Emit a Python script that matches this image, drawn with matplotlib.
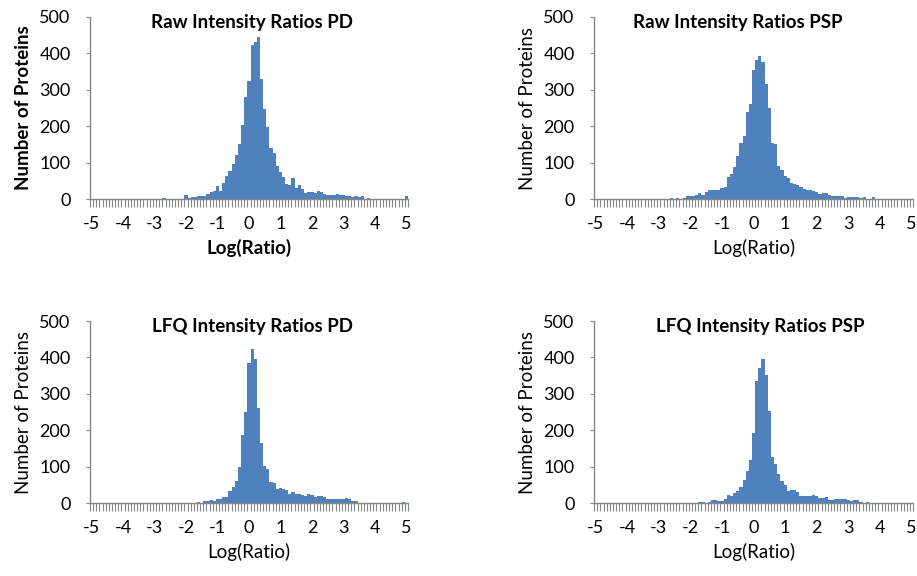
import numpy as np
import matplotlib
matplotlib.use("Agg")
import matplotlib.pyplot as plt
from matplotlib.ticker import FixedLocator

plt.rcParams['font.family'] = ['Lato', 'DejaVu Sans']

# bin centres -5.0 .. 5.0 in steps of 0.1
log_ratio = np.round(np.arange(-50, 51) / 10, 1)

raw_pd = [0] * 20 + [
    0, 0, 0, 4, 0, 0, 0, 0, 0, 0,
    12, 3, 5, 5, 9, 9, 9, 13, 20, 23,
    37, 23, 43, 63, 77, 95, 121, 151, 203, 279,
    325, 423, 431, 445, 329, 248, 198, 139, 127, 91,
    73, 61, 42, 39, 57, 31, 38, 28, 16, 20,
    20, 17, 23, 20, 14, 12, 12, 12, 15, 10,
    12, 7, 7, 5, 9, 5, 7, 0, 4, 0,
    0, 0, 0, 0, 0, 0, 0, 0, 0, 0,
    7]

raw_psp = [0] * 20 + [
    0, 0, 0, 0, 3, 0, 3, 0, 4, 9,
    9, 7, 11, 17, 11, 18, 26, 26, 26, 26,
    30, 33, 60, 68, 87, 118, 154, 173, 238, 262,
    355, 383, 392, 375, 315, 251, 154, 152, 91, 79,
    62, 58, 44, 41, 38, 33, 27, 26, 24, 22,
    20, 13, 16, 16, 11, 8, 9, 7, 8, 4,
    6, 6, 6, 5, 2, 6, 0, 0, 5, 0,
    0, 0, 0, 0, 0, 0, 0, 0, 0, 0,
    0]

lfq_pd = [0] * 30 + [
    0, 0, 0, 0, 2, 0, 5, 5, 7, 5,
    10, 12, 16, 16, 33, 44, 60, 100, 186, 249,
    384, 423, 397, 262, 166, 103, 93, 59, 54, 39,
    42, 38, 35, 26, 29, 26, 25, 22, 20, 26,
    22, 16, 18, 18, 16, 10, 11, 11, 11, 11,
    11, 14, 10, 6, 6, 0, 0, 0, 0, 0,
    0, 0, 0, 0, 0, 0, 0, 0, 0, 3,
    0]

lfq_psp = [0] * 30 + [
    0, 0, 0, 2, 2, 0, 3, 7, 7, 5,
    5, 10, 22, 18, 27, 32, 45, 63, 87, 119,
    191, 335, 370, 395, 352, 252, 126, 107, 80, 60,
    49, 32, 35, 35, 29, 20, 20, 20, 20, 22,
    20, 13, 13, 17, 8, 7, 11, 11, 11, 10,
    9, 6, 7, 7, 3, 0, 3, 0, 0, 0,
    0, 0, 0, 0, 0, 0, 0, 0, 0, 0,
    0]

titles = ['Raw Intensity Ratios PD', 'Raw Intensity Ratios PSP',
          'LFQ Intensity Ratios PD', 'LFQ Intensity Ratios PSP']
series = [raw_pd, raw_psp, lfq_pd, lfq_psp]

# axes boxes in figure fractions (left, bottom, width, height)
boxes = [(0.0981, 0.6545, 0.3468, 0.316),
         (0.6478, 0.6545, 0.348, 0.316),
         (0.0981, 0.1267, 0.3468, 0.316),
         (0.6478, 0.1267, 0.348, 0.316)]
title_x = [0.51, 0.45, 0.51, 0.52]
bold_labels = [True, False, False, False]

bar_color = '#4F81BD'
axis_color = '#868686'

fig = plt.figure(figsize=(9.17, 5.76), dpi=100)

for box, title, counts, tx, bold in zip(boxes, titles, series, title_x, bold_labels):
    ax = fig.add_axes(box)
    ax.bar(log_ratio, counts, width=0.1, color=bar_color, linewidth=0, zorder=2)
    ax.set_xlim(-5.05, 5.05)
    ax.set_ylim(0, 500)
    ax.set_yticks([0, 100, 200, 300, 400, 500])
    ax.set_xticks(np.arange(-5, 6))
    ax.set_xticklabels([str(v) for v in range(-5, 6)])
    ax.xaxis.set_minor_locator(FixedLocator(np.arange(-5.05, 5.1, 0.1)))

    for side in ['top', 'right']:
        ax.spines[side].set_visible(False)
    for side in ['left', 'bottom']:
        ax.spines[side].set_color(axis_color)
        ax.spines[side].set_linewidth(1.0)

    ax.tick_params(axis='x', which='major', length=0, pad=12, labelsize=13, colors='black')
    ax.tick_params(axis='x', which='minor', length=6, width=0.8, color=axis_color, direction='out')
    ax.tick_params(axis='y', which='major', length=3, width=0.8, color=axis_color, pad=11, labelsize=13)

    weight = 'bold' if bold else 'normal'
    ax.set_ylabel('Number of Proteins', fontsize=13.5, fontweight=weight, labelpad=5)
    ax.set_xlabel('Log(Ratio)', fontsize=13.5, fontweight=weight, labelpad=5)
    ax.text(tx, 1.015, title, transform=ax.transAxes, ha='center', va='top',
            fontsize=13.5, fontweight='bold')

fig.savefig('out.png', dpi=100)
